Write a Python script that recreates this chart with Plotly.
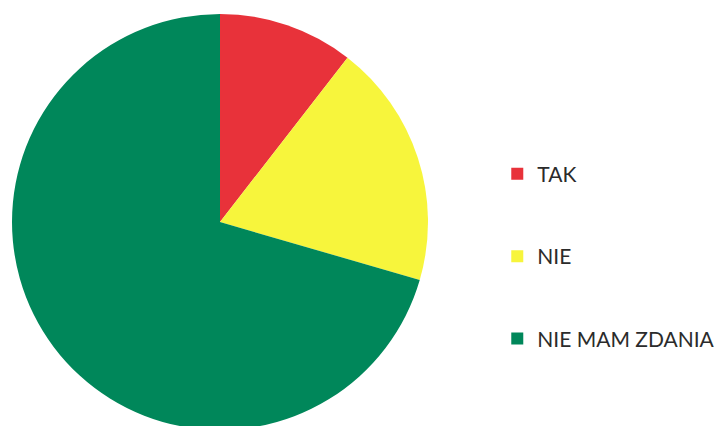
import plotly.graph_objects as go

labels = ["TAK", "NIE", "NIE MAM ZDANIA"]
values = [10.5, 19.0, 70.5]
colors = ["#E8323A", "#F7F53C", "#00875A"]

fig = go.Figure()
fig.add_trace(go.Pie(
    labels=labels, values=values, sort=False, direction="clockwise", rotation=0,
    marker=dict(colors=colors, line=dict(width=0)),
    textinfo="none", hoverinfo="label+percent", showlegend=False,
    domain=dict(x=[4/727, 420/727], y=[4/426, 420/426]),
))
for lab, col in zip(labels, colors):
    fig.add_trace(go.Scatter(
        x=[None], y=[None], mode="markers", name=lab, legendgroup=lab,
        marker=dict(symbol="square", size=12, color=col),
    ))

fig.update_layout(
    width=727, height=426,
    margin=dict(l=0, r=0, t=0, b=0),
    paper_bgcolor="white", plot_bgcolor="white",
    xaxis=dict(visible=False), yaxis=dict(visible=False),
    showlegend=True,
    legend=dict(
        x=0.673, y=0.658, xanchor="left", yanchor="top",
        font=dict(family="Lato, sans-serif", size=21, color="#2b2b2b"),
        tracegroupgap=52, itemsizing="trace", bgcolor="rgba(0,0,0,0)",
    ),
)
fig.write_html("out.html")
